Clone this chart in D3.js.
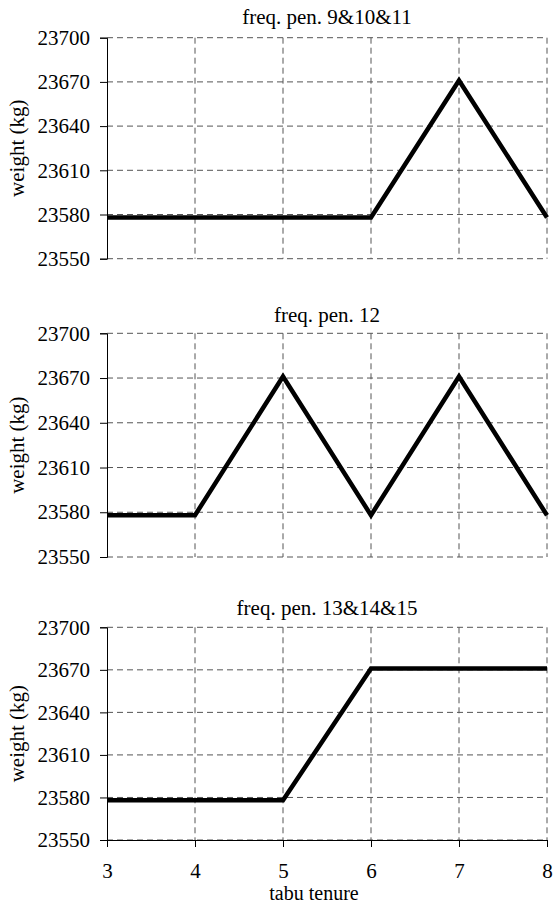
<!DOCTYPE html>
<html>
<head>
<meta charset="utf-8">
<style>
  html, body { margin: 0; padding: 0; background: #fff; }
</style>
</head>
<body>
<svg id="viz"></svg>
<script src="https://cdnjs.cloudflare.com/ajax/libs/d3/7.8.5/d3.min.js"></script>
<script>
// tabu tenure on x, weight on y
var tenure = [3, 4, 5, 6, 7, 8];
var yTicks = [23550, 23580, 23610, 23640, 23670, 23700];
var titles = ["freq. pen. 9&10&11", "freq. pen. 12", "freq. pen. 13&14&15"];
var pen9_10_11 = [23578, 23578, 23578, 23578, 23671, 23578];
var pen12 = [23578, 23578, 23671, 23578, 23671, 23578];
var pen13_14_15 = [23578, 23578, 23578, 23671, 23671, 23671];
var series = [pen9_10_11, pen12, pen13_14_15];

var width = 555, height = 903;
var left = 107, right = 547;
var serif = "Liberation Serif, Times New Roman, Times, serif";
var fs = 21;
// top/bottom of each plot area, and title gap above it
var panels = [[37.7, 258.7], [333.3, 557], [627.3, 840]];
var titleGap = [13.5, 11, 12];

var svg = d3.select("#viz").attr("width", width).attr("height", height)
    .style("font-family", serif);

var x = d3.scaleLinear().domain([3, 8]).range([left, right]);

panels.forEach(function(p, i) {
  var y = d3.scaleLinear().domain([23550, 23700]).range([p[1], p[0]]);
  var g = svg.append("g");

  // horizontal grid
  g.append("g").selectAll("line")
    .data(yTicks)
    .enter().append("line")
    .attr("x1", left).attr("x2", right)
    .attr("y1", function(d) { return y(d); })
    .attr("y2", function(d) { return y(d); })
    .attr("stroke", "#555")
    .attr("stroke-width", 1)
    .attr("stroke-dasharray", "6,4");

  // vertical grid
  g.append("g").selectAll("line")
    .data(tenure.slice(1))
    .enter().append("line")
    .attr("x1", function(d) { return x(d); })
    .attr("x2", function(d) { return x(d); })
    .attr("y1", p[0]).attr("y2", p[1])
    .attr("stroke", "#555")
    .attr("stroke-width", 1)
    .attr("stroke-dasharray", "6,4");

  // y axis
  var ya = g.append("g")
    .attr("transform", "translate(" + left + ",0)")
    .call(d3.axisLeft(y).tickValues(yTicks).tickSize(7).tickPadding(10).tickFormat(d3.format("d")));
  ya.attr("font-family", null).attr("font-size", null);
  ya.select(".domain").attr("stroke", "#000");
  ya.selectAll("text").attr("fill", "#000").style("font-family", serif).style("font-size", fs + "px");

  // x axis only on the last panel
  if (i == 2) {
    var xa = g.append("g")
      .attr("transform", "translate(0," + p[1] + ")")
      .call(d3.axisBottom(x).tickValues(tenure).tickSize(7).tickPadding(16).tickSizeOuter(0).tickFormat(d3.format("d")));
    xa.attr("font-family", null).attr("font-size", null);
    xa.selectAll("text").attr("fill", "#000").style("font-family", serif).style("font-size", fs + "px");
    svg.append("text")
      .attr("x", 314).attr("y", 900)
      .attr("text-anchor", "middle")
      .style("font-size", "20px")
      .text("tabu tenure");
  }

  // title
  svg.append("text")
    .attr("x", (left + right) / 2).attr("y", p[0] - titleGap[i])
    .attr("text-anchor", "middle")
    .style("font-size", fs + "px")
    .text(titles[i]);

  // y label
  svg.append("text")
    .attr("transform", "translate(24," + (p[0] + p[1]) / 2 + ") rotate(-90)")
    .attr("text-anchor", "middle")
    .style("font-size", fs + "px")
    .text("weight (kg)");

  // the line
  g.append("path")
    .datum(series[i])
    .attr("fill", "none")
    .attr("stroke", "#000")
    .attr("stroke-width", 4.5)
    .attr("stroke-linejoin", "miter")
    .attr("d", d3.line()
      .x(function(d, j) { return x(tenure[j]); })
      .y(function(d) { return y(d); }));
});
</script>
</body>
</html>
